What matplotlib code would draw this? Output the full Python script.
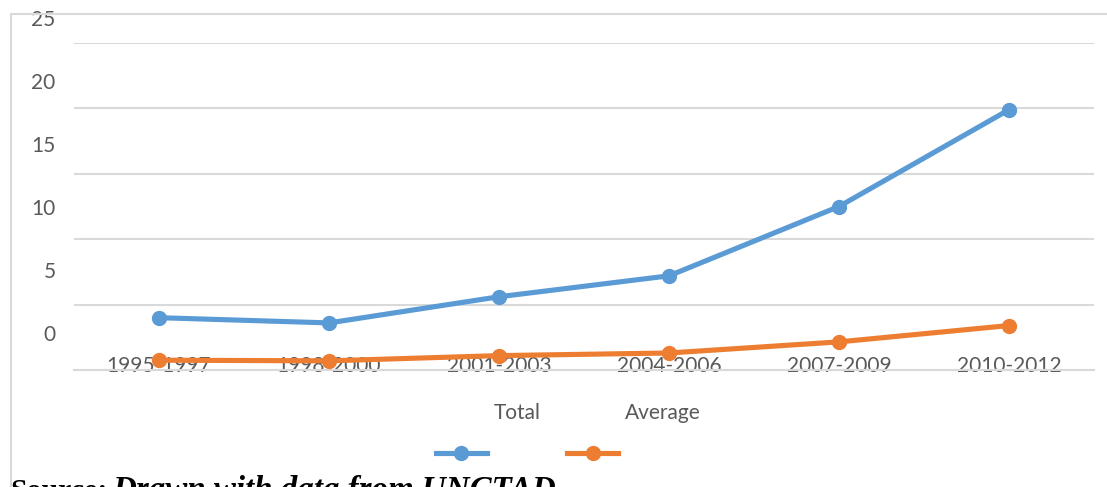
import matplotlib.pyplot as plt
from matplotlib.lines import Line2D
from matplotlib.patches import Rectangle
from matplotlib.transforms import ScaledTranslation

# Data
periods = ['1995-1997', '1998-2000', '2001-2003', '2004-2006', '2007-2009', '2010-2012']
total = [4.0, 3.6, 5.6, 7.2, 12.5, 19.9]
average = [0.75, 0.7, 1.1, 1.3, 2.15, 3.4]
y_ticks = [0, 5, 10, 15, 20, 25]

BLUE = '#5b9bd5'
ORANGE = '#ed7d31'
GRID = '#d9d9d9'
TEXT = '#595959'
FONT = 'Lato'

W, H = 1107, 487
fig = plt.figure(figsize=(W / 100, H / 100), dpi=100)

# axes box in pixels: x 74..1094, y 43 (25) .. 370 (0)
ax = fig.add_axes([74 / W, 1 - 370 / H, 1020 / W, 327 / H])
x = list(range(len(periods)))
ax.plot(x, total, color=BLUE, lw=3.7, marker='o', ms=10, solid_capstyle='round', zorder=3)
ax.plot(x, average, color=ORANGE, lw=3.7, marker='o', ms=10, solid_capstyle='round', zorder=3)

ax.set_xlim(-0.5, 5.5)
ax.set_ylim(0, 25)
ax.set_yticks(y_ticks)
ax.set_yticklabels([str(v) for v in y_ticks], fontfamily=FONT, fontsize=15, color=TEXT)
ax.set_xticks(x)
ax.set_xticklabels(periods, fontfamily=FONT, fontsize=15, color=TEXT)
ax.tick_params(length=0)
ax.tick_params(axis='y', pad=22)
ax.grid(axis='y', color=GRID, lw=1.5)
ax.set_axisbelow(True)
for s in ['top', 'right', 'left']:
    ax.spines[s].set_visible(False)
ax.spines['bottom'].set_color(GRID)
ax.spines['bottom'].set_linewidth(1.5)

# labels sit offset from their gridlines, as in the source
for v, lab in zip(y_ticks, ax.get_yticklabels()):
    dy = (37 - 0.48 * v) / 100
    lab.set_transform(lab.get_transform() + ScaledTranslation(0.12, dy, fig.dpi_scale_trans))
for lab in ax.get_xticklabels():
    lab.set_transform(lab.get_transform() + ScaledTranslation(0, 0.19, fig.dpi_scale_trans))

# outer chart frame
fig.patches.append(Rectangle((11 / W, -0.1), (W - 8) / W, 1.1 - 14 / H,
                             transform=fig.transFigure, fill=False, ec=GRID, lw=1.5))

# legend
fig.text(517 / W, 1 - 413 / H, 'Total', ha='center', va='center',
         fontfamily=FONT, fontsize=15, color=TEXT)
fig.text(663 / W, 1 - 413 / H, 'Average', ha='center', va='center',
         fontfamily=FONT, fontsize=15, color=TEXT)
for x0, c in [(436, BLUE), (567, ORANGE)]:
    fig.add_artist(Line2D([x0 / W, (x0 + 51) / W], [1 - 453 / H] * 2, transform=fig.transFigure,
                          color=c, lw=3.7))
    fig.add_artist(Line2D([(x0 + 25.5) / W], [1 - 453 / H], transform=fig.transFigure,
                          color=c, marker='o', ms=10))

# source note, cut by the bottom edge
fig.text(10 / W, 1 - 499 / H, 'Source:', fontfamily='Liberation Serif', fontweight='bold',
         fontsize=21.5, va='baseline', ha='left')
fig.text(112 / W, 1 - 499 / H, 'Drawn with data from UNCTAD', fontfamily='Liberation Serif',
         fontweight='bold', fontstyle='italic', fontsize=23.8, va='baseline', ha='left')

fig.savefig('out.png', dpi=100)
